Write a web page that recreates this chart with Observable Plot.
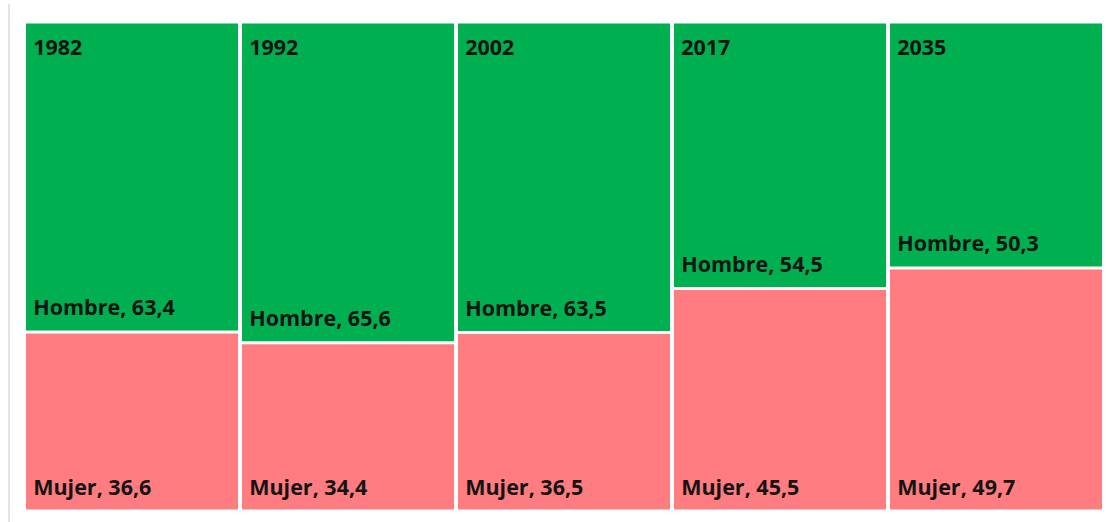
<!DOCTYPE html>
<html>
<head>
<meta charset="utf-8">
<script src="https://cdn.jsdelivr.net/npm/d3@7"></script>
<script src="https://cdn.jsdelivr.net/npm/@observablehq/plot@0.6"></script>
<style>
  html, body { margin: 0; padding: 0; background: #fff; }
  #wrap { position: relative; width: 1106px; height: 522px; overflow: hidden; }
  #edge { position: absolute; left: 8px; top: 4px; width: 2px; height: 518px; background: #e4e4e4; }
  #chart svg { display: block; }
</style>
</head>
<body>
<div id="wrap"><div id="edge"></div><div id="chart"></div></div>
<script>
const years = ["1982", "1992", "2002", "2017", "2035"];
const hombre = [63.4, 65.6, 63.5, 54.5, 50.3];
const mujer = [36.6, 34.4, 36.5, 45.5, 49.7];
const sexos = ["Hombre", "Mujer"];
const colores = ["#00B050", "#FF7C80"];

const fmt = v => String(v).replace(".", ",");

const data = years.flatMap((y, i) => [
  {year: y, sexo: "Mujer", value: mujer[i]},
  {year: y, sexo: "Hombre", value: hombre[i]}
]);
const yearRows = years.map((y, i) => ({year: y, mujer: mujer[i], hombre: hombre[i]}));

const W = 1106, H = 522, mL = 25, mR = 3;
const step = (W - mL - mR) / (5 - 0.0185);
const halfBand = (W - mL - mR) / 5 / 2;
const dxLabel = -halfBand + 8.5;

const font = {fontFamily: "'Open Sans', sans-serif", fontSize: 21.5, fontWeight: "bold", fill: "#141414", textAnchor: "start"};

const chart = Plot.plot({
  width: W,
  height: H,
  marginLeft: mL,
  marginRight: mR,
  marginTop: 22,
  marginBottom: 11,
  x: {domain: years, axis: null, paddingInner: 0.0185, paddingOuter: 0},
  y: {domain: [0, 100], axis: null},
  color: {domain: sexos, range: colores},
  marks: [
    Plot.barY(data, {x: "year", y: "value", fill: "sexo", insetTop: 1.5, insetBottom: 1.5}),
    Plot.text(yearRows, {x: "year", y: () => 100, text: "year", dx: dxLabel, dy: 25.5, lineAnchor: "middle", ...font}),
    Plot.text(yearRows, {x: "year", y: "mujer", text: d => `Hombre, ${fmt(d.hombre)}`, dx: dxLabel, dy: -24, lineAnchor: "middle", ...font}),
    Plot.text(yearRows, {x: "year", y: () => 0, text: d => `Mujer, ${fmt(d.mujer)}`, dx: dxLabel, dy: -23.5, lineAnchor: "middle", ...font})
  ]
});
document.getElementById("chart").appendChild(chart);
</script>
</body>
</html>
